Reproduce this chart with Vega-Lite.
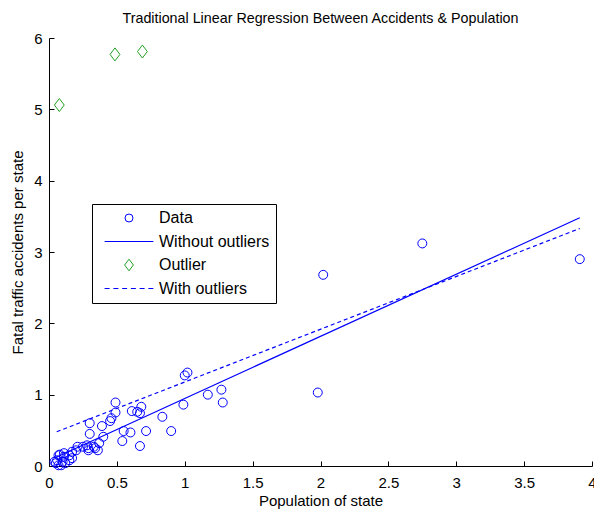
{
  "$schema": "https://vega.github.io/schema/vega-lite/v6.json",
  "width": 543,
  "height": 428,
  "autosize": {"type": "none"},
  "padding": {"left": 49, "top": 38, "right": 2, "bottom": 44},
  "background": "white",
  "title": {
    "text": "Traditional Linear Regression Between Accidents & Population",
    "font": "Liberation Sans",
    "fontSize": 14.3,
    "fontWeight": "normal",
    "color": "black",
    "anchor": "middle",
    "offset": 5
  },
  "config": {
    "view": {"stroke": null},
    "axis": {
      "domainColor": "black",
      "tickColor": "black",
      "labelColor": "black",
      "titleColor": "black",
      "labelFont": "Liberation Sans",
      "titleFont": "Liberation Sans",
      "labelFontSize": 15,
      "titleFontSize": 15,
      "titleFontWeight": "normal",
      "grid": false,
      "tickSize": -5,
      "labelFlush": false,
      "labelOverlap": false
    },
    "legend": {
      "orient": "none",
      "legendX": 43,
      "legendY": 166,
      "strokeColor": "black",
      "fillColor": "white",
      "padding": 6,
      "cornerRadius": 0,
      "labelFont": "Liberation Sans",
      "labelFontSize": 16,
      "labelColor": "black",
      "symbolSize": 64,
      "symbolStrokeWidth": 1,
      "symbolOpacity": 1,
      "symbolOffset": 23,
      "labelOffset": 22,
      "rowPadding": 7.5
    }
  },
  "datasets": {
    "pts": [
      {"pop": 3.91, "acc": 2.90, "series": "Data"},
      {"pop": 2.75, "acc": 3.12, "series": "Data"},
      {"pop": 2.02, "acc": 2.68, "series": "Data"},
      {"pop": 1.98, "acc": 1.03, "series": "Data"},
      {"pop": 1.00, "acc": 1.27, "series": "Data"},
      {"pop": 1.02, "acc": 1.31, "series": "Data"},
      {"pop": 1.17, "acc": 1.00, "series": "Data"},
      {"pop": 1.27, "acc": 1.07, "series": "Data"},
      {"pop": 1.28, "acc": 0.89, "series": "Data"},
      {"pop": 0.99, "acc": 0.86, "series": "Data"},
      {"pop": 0.90, "acc": 0.49, "series": "Data"},
      {"pop": 0.835, "acc": 0.69, "series": "Data"},
      {"pop": 0.49, "acc": 0.89, "series": "Data"},
      {"pop": 0.61, "acc": 0.77, "series": "Data"},
      {"pop": 0.68, "acc": 0.83, "series": "Data"},
      {"pop": 0.67, "acc": 0.74, "series": "Data"},
      {"pop": 0.65, "acc": 0.76, "series": "Data"},
      {"pop": 0.49, "acc": 0.75, "series": "Data"},
      {"pop": 0.46, "acc": 0.67, "series": "Data"},
      {"pop": 0.45, "acc": 0.63, "series": "Data"},
      {"pop": 0.30, "acc": 0.60, "series": "Data"},
      {"pop": 0.39, "acc": 0.56, "series": "Data"},
      {"pop": 0.30, "acc": 0.45, "series": "Data"},
      {"pop": 0.40, "acc": 0.41, "series": "Data"},
      {"pop": 0.55, "acc": 0.49, "series": "Data"},
      {"pop": 0.60, "acc": 0.47, "series": "Data"},
      {"pop": 0.54, "acc": 0.35, "series": "Data"},
      {"pop": 0.715, "acc": 0.49, "series": "Data"},
      {"pop": 0.67, "acc": 0.28, "series": "Data"},
      {"pop": 0.29, "acc": 0.25, "series": "Data"},
      {"pop": 0.34, "acc": 0.25, "series": "Data"},
      {"pop": 0.36, "acc": 0.22, "series": "Data"},
      {"pop": 0.25, "acc": 0.27, "series": "Data"},
      {"pop": 0.33, "acc": 0.27, "series": "Data"},
      {"pop": 0.28, "acc": 0.29, "series": "Data"},
      {"pop": 0.29, "acc": 0.22, "series": "Data"},
      {"pop": 0.37, "acc": 0.32, "series": "Data"},
      {"pop": 0.21, "acc": 0.27, "series": "Data"},
      {"pop": 0.20, "acc": 0.22, "series": "Data"},
      {"pop": 0.17, "acc": 0.20, "series": "Data"},
      {"pop": 0.15, "acc": 0.15, "series": "Data"},
      {"pop": 0.11, "acc": 0.13, "series": "Data"},
      {"pop": 0.07, "acc": 0.15, "series": "Data"},
      {"pop": 0.06, "acc": 0.08, "series": "Data"},
      {"pop": 0.10, "acc": 0.06, "series": "Data"},
      {"pop": 0.05, "acc": 0.04, "series": "Data"},
      {"pop": 0.09, "acc": 0.01, "series": "Data"},
      {"pop": 0.12, "acc": 0.04, "series": "Data"},
      {"pop": 0.15, "acc": 0.08, "series": "Data"},
      {"pop": 0.07, "acc": 0.01, "series": "Data"},
      {"pop": 0.04, "acc": 0.06, "series": "Data"},
      {"pop": 0.17, "acc": 0.11, "series": "Data"},
      {"pop": 0.08, "acc": 0.16, "series": "Data"},
      {"pop": 0.11, "acc": 0.18, "series": "Data"},
      {"pop": 0.076, "acc": 5.06, "series": "Outlier"},
      {"pop": 0.486, "acc": 5.77, "series": "Outlier"},
      {"pop": 0.688, "acc": 5.81, "series": "Outlier"}
    ],
    "fits": [
      {"pop": 0.05, "acc": 0.12, "series": "Without outliers"},
      {"pop": 3.91, "acc": 3.48, "series": "Without outliers"},
      {"pop": 0.057, "acc": 0.48, "series": "With outliers"},
      {"pop": 3.91, "acc": 3.33, "series": "With outliers"}
    ]
  },
  "layer": [
    {
      "data": {"name": "fits"},
      "transform": [{"filter": "datum.series == 'Without outliers'"}],
      "mark": {"type": "line", "strokeWidth": 1.2},
      "encoding": {
        "x": {"field": "pop", "type": "quantitative"},
        "y": {"field": "acc", "type": "quantitative"},
        "color": {"field": "series", "type": "nominal"}
      }
    },
    {
      "data": {"name": "fits"},
      "transform": [{"filter": "datum.series == 'With outliers'"}],
      "mark": {"type": "line", "strokeWidth": 1.2, "strokeDash": [4, 3]},
      "encoding": {
        "x": {"field": "pop", "type": "quantitative"},
        "y": {"field": "acc", "type": "quantitative"},
        "color": {"field": "series", "type": "nominal"}
      }
    },
    {
      "data": {"name": "pts"},
      "mark": {"type": "point", "filled": false, "size": 80, "strokeWidth": 1, "opacity": 1},
      "encoding": {
        "x": {
          "field": "pop",
          "type": "quantitative",
          "title": "Population of state",
          "scale": {"domain": [0, 4], "nice": false},
          "axis": {"values": [0, 0.5, 1, 1.5, 2, 2.5, 3, 3.5, 4], "format": "~g", "labelPadding": 14, "titlePadding": 3}
        },
        "y": {
          "field": "acc",
          "type": "quantitative",
          "title": "Fatal traffic accidents per state",
          "scale": {"domain": [0, 6], "nice": false},
          "axis": {"values": [0, 1, 2, 3, 4, 5, 6], "format": "~g", "labelPadding": 12, "titlePadding": 8}
        },
        "color": {
          "field": "series",
          "type": "nominal",
          "scale": {
            "domain": ["Data", "Without outliers", "Outlier", "With outliers"],
            "range": ["#0000ff", "#0000ff", "#22a022", "#0000ff"]
          },
          "legend": {"title": null}
        },
        "shape": {
          "field": "series",
          "type": "nominal",
          "scale": {
            "domain": ["Data", "Without outliers", "Outlier", "With outliers"],
            "range": [
              "circle",
              "M-6.1,0H6.1",
              "M0,-1.45L1.1,0L0,1.45L-1.1,0Z",
              "M-6.1,0H-4.85M-3.91,0H-2.66M-1.72,0H-0.47M0.47,0H1.72M2.66,0H3.91M4.85,0H6.1"
            ]
          },
          "legend": {"title": null}
        }
      }
    }
  ]
}
